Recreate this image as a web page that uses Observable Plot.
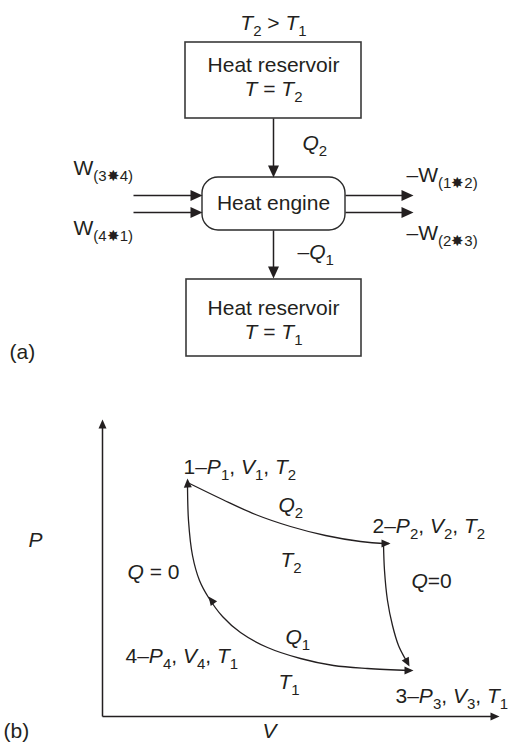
<!DOCTYPE html>
<html>
<head>
<meta charset="utf-8">
<script src="https://cdn.jsdelivr.net/npm/d3@7"></script>
<script src="https://cdn.jsdelivr.net/npm/@observablehq/plot@0.6"></script>
<style>
  html, body { margin: 0; padding: 0; background: #fff; }
</style>
</head>
<body>
<div id="chart"></div>
<script>
// ---------- data (diagram coordinates in page pixels) ----------
const ink = "#231f20";

// (a) block diagram
const boxes = [
  {name: "hot reservoir",  x1: 185, y1: 42,  x2: 361, y2: 118},
  {name: "cold reservoir", x1: 186, y1: 279, x2: 361, y2: 356}
];
const engine = [{name: "heat engine", x1: 202, y1: 177, x2: 345, y2: 230}];

const segments = [
  {x1: 273, y1: 118, x2: 273, y2: 172},   // Q2 in
  {x1: 273, y1: 230, x2: 273, y2: 273},   // -Q1 out
  {x1: 133, y1: 195, x2: 196, y2: 195},   // W(3-4)
  {x1: 133, y1: 212, x2: 196, y2: 212},   // W(4-1)
  {x1: 345, y1: 195, x2: 407, y2: 195},   // -W(1-2)
  {x1: 345, y1: 212, x2: 407, y2: 212},   // -W(2-3)
  // (b) axes
  {x1: 102, y1: 716, x2: 102, y2: 424},
  {x1: 102, y1: 716, x2: 494, y2: 716}
];

const bigHeads = [
  {x: 273, y: 177, angle: 90},
  {x: 273, y: 278, angle: 90},
  {x: 202, y: 195, angle: 0},
  {x: 202, y: 212, angle: 0},
  {x: 413, y: 195, angle: 0},
  {x: 413, y: 212, angle: 0}
];

// (b) P–V cycle curves
const curve12 = [[187,482],[222,499],[255,514],[290,526],[325,535],[360,541],[383,543],[388,543]];
const curve23 = [[383,543],[384,570],[387,600],[392,625],[398,645],[404,657],[407,662]];
const curve413 = [[187,482],[188,520],[192,555],[199,580],[208,597],[222,616],[240,632],[267,647],[300,658],[333,665],[367,668],[410,670]];

const smallHeads = [
  {x: 187, y: 478, angle: -92},
  {x: 390, y: 543, angle: 0},
  {x: 409, y: 666, angle: 62},
  {x: 208, y: 596, angle: -127},
  {x: 413, y: 670, angle: 0},
  {x: 102, y: 419, angle: -90},
  {x: 499, y: 716, angle: 0}
];

// labels: "/.../" = italic, "_x" or "_{...}" = subscript
const labels = [
  {x: 273, y: 23,  text: "/T/_2 > /T/_1", anchor: "middle"},
  {x: 273, y: 65,  text: "Heat reservoir", anchor: "middle"},
  {x: 273, y: 89,  text: "/T/ = /T/_2", anchor: "middle"},
  {x: 302, y: 143, text: "/Q/_2", anchor: "start"},
  {x: 273, y: 203, text: "Heat engine", anchor: "middle"},
  {x: 73,  y: 168, text: "W_{(3✸4)}", anchor: "start"},
  {x: 73,  y: 228, text: "W_{(4✸1)}", anchor: "start"},
  {x: 406, y: 175, text: "–W_{(1✸2)}", anchor: "start"},
  {x: 406, y: 233, text: "–W_{(2✸3)}", anchor: "start"},
  {x: 297, y: 252, text: "–/Q/_1", anchor: "start"},
  {x: 273, y: 308, text: "Heat reservoir", anchor: "middle"},
  {x: 273, y: 332, text: "/T/ = /T/_1", anchor: "middle"},
  {x: 9,   y: 352, text: "(a)", anchor: "start"},
  {x: 183, y: 467, text: "1–/P/_1, /V/_1, /T/_2", anchor: "start"},
  {x: 278, y: 505, text: "/Q/_2", anchor: "start"},
  {x: 372, y: 526, text: "2–/P/_2, /V/_2, /T/_2", anchor: "start"},
  {x: 280, y: 560, text: "/T/_2", anchor: "start"},
  {x: 28,  y: 540, text: "/P/", anchor: "start"},
  {x: 127, y: 572, text: "/Q/ = 0", anchor: "start"},
  {x: 411, y: 581, text: "/Q/=0", anchor: "start"},
  {x: 285, y: 637, text: "/Q/_1", anchor: "start"},
  {x: 125, y: 656, text: "4–/P/_4, /V/_4, /T/_1", anchor: "start"},
  {x: 278, y: 682, text: "/T/_1", anchor: "start"},
  {x: 395, y: 696, text: "3–/P/_3, /V/_3, /T/_1", anchor: "start"},
  {x: 3,   y: 731, text: "(b)", anchor: "start"},
  {x: 262, y: 731, text: "/V/", anchor: "start"}
];

// ---------- build tables ----------
const curves = [
  ...curve12.map(([x, y]) => ({id: "12", x, y})),
  ...curve23.map(([x, y]) => ({id: "23", x, y})),
  ...curve413.map(([x, y]) => ({id: "413", x, y}))
];

function headSymbol(len, wid) {
  return {
    draw(ctx) {
      ctx.moveTo(0, 0);
      ctx.lineTo(-len, -wid / 2);
      ctx.lineTo(-len, wid / 2);
      ctx.closePath();
    }
  };
}

const W = 508, H = 744;
const chart = Plot.plot({
  width: W,
  height: H,
  margin: 0,
  x: {domain: [0, W], range: [0, W], axis: null},
  y: {domain: [0, H], range: [0, H], axis: null},
  style: {background: "#fff", fontFamily: "'Liberation Sans', Arial, Helvetica, sans-serif", color: ink},
  marks: [
    Plot.rect(boxes, {x1: "x1", y1: "y1", x2: "x2", y2: "y2", fill: "none", stroke: "#3a3a3a", strokeWidth: 1.6}),
    Plot.rect(engine, {x1: "x1", y1: "y1", x2: "x2", y2: "y2", fill: "none", stroke: "#2a2a2a", strokeWidth: 1.4, rx: 16}),
    Plot.link(segments, {x1: "x1", y1: "y1", x2: "x2", y2: "y2", stroke: ink, strokeWidth: 1.5}),
    Plot.line(curves, {x: "x", y: "y", z: "id", curve: "catmull-rom", stroke: ink, strokeWidth: 1.3}),
    Plot.dot(bigHeads, {x: "x", y: "y", rotate: "angle", symbol: headSymbol(12, 11), fill: ink, stroke: null}),
    Plot.dot(smallHeads, {x: "x", y: "y", rotate: "angle", symbol: headSymbol(9, 8), fill: ink, stroke: null}),
    Plot.text(labels.filter(d => d.anchor === "middle"), {x: "x", y: "y", text: "text", textAnchor: "middle", fontSize: 21, fill: ink}),
    Plot.text(labels.filter(d => d.anchor === "start"), {x: "x", y: "y", text: "text", textAnchor: "start", fontSize: 21, fill: ink})
  ]
});

// ---------- rich text (italic + subscripts) ----------
function parse(s) {
  const out = [];
  let italic = false, buf = "", i = 0;
  const flush = () => { if (buf) { out.push({t: buf, italic, sub: false}); buf = ""; } };
  while (i < s.length) {
    const c = s[i];
    if (c === "/") { flush(); italic = !italic; i++; }
    else if (c === "_") {
      flush();
      let t;
      if (s[i + 1] === "{") { const j = s.indexOf("}", i); t = s.slice(i + 2, j); i = j + 1; }
      else { t = s[i + 1]; i += 2; }
      out.push({t, italic: false, sub: true});
    } else { buf += c; i++; }
  }
  flush();
  return out;
}
const NS = "http://www.w3.org/2000/svg";
for (const el of chart.querySelectorAll("text")) {
  const s = el.textContent;
  if (!/[\/_]/.test(s)) continue;
  el.textContent = "";
  let shifted = false;
  for (const part of parse(s)) {
    const ts = document.createElementNS(NS, "tspan");
    ts.textContent = part.t;
    if (part.italic) ts.setAttribute("font-style", "italic");
    if (part.sub) {
      ts.setAttribute("font-size", "15");
      if (!shifted) { ts.setAttribute("dy", "6"); shifted = true; }
    } else if (shifted) {
      ts.setAttribute("dy", "-6"); shifted = false;
    }
    el.appendChild(ts);
  }
}

document.getElementById("chart").appendChild(chart);
</script>
</body>
</html>
